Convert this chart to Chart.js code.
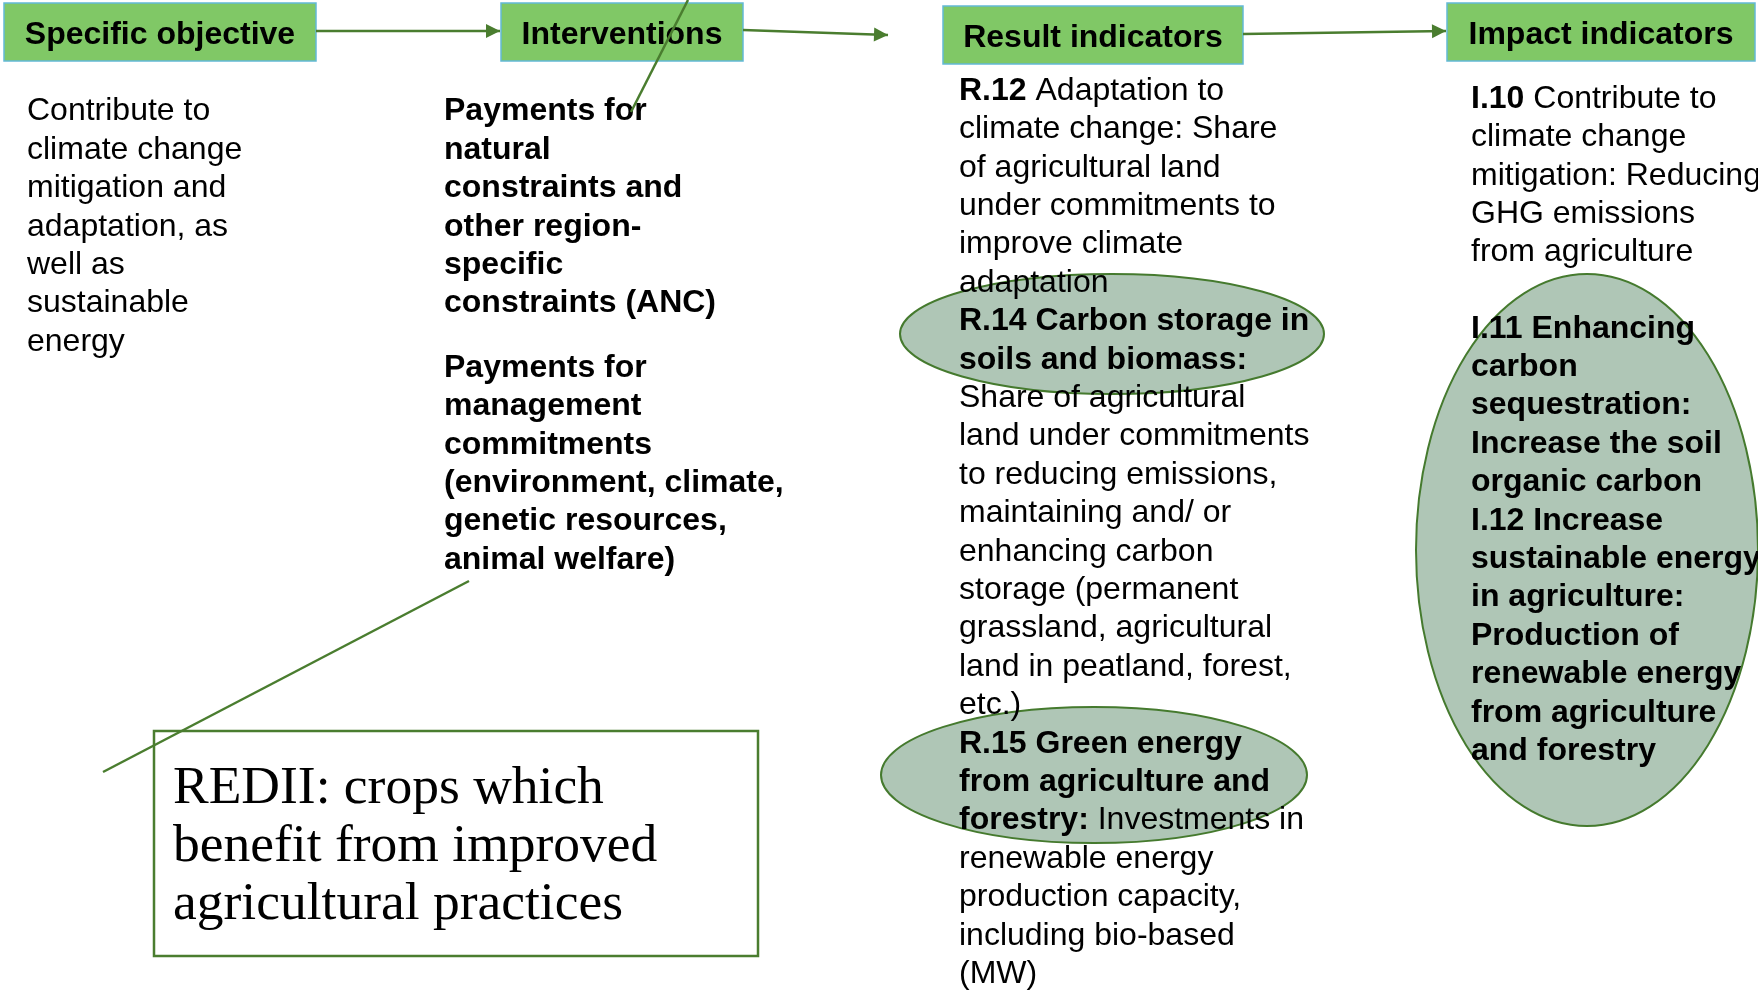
<!DOCTYPE html>
<html>
<head>
<meta charset="utf-8">
<script src="https://cdn.jsdelivr.net/npm/chart.js@4/dist/chart.umd.min.js"></script>
<style>
  html, body { margin: 0; padding: 0; background: #fff; }
  #wrap { width: 1758px; height: 996px; position: relative; }
</style>
</head>
<body>
<div id="wrap"><canvas id="flowChart"></canvas></div>
<script>
// headers of the four stages
const headers = ['Specific objective', 'Interventions', 'Result indicators', 'Impact indicators'];

// column texts (**...** = bold part)
const objectiveLines = ['Contribute to', 'climate change', 'mitigation and', 'adaptation, as', 'well as', 'sustainable', 'energy'];
const ancLines = ['**Payments for**', '**natural**', '**constraints and**', '**other region-**', '**specific**', '**constraints (ANC)**'];
const managementLines = ['**Payments for**', '**management**', '**commitments**', '**(environment, climate,**', '**genetic resources,**', '**animal welfare)**'];
const resultLines = [
    '**R.12** Adaptation to', 'climate change: Share', 'of agricultural land', 'under commitments to',
    'improve climate', 'adaptation', '**R.14 Carbon storage in**', '**soils and biomass:**',
    'Share of agricultural', 'land under commitments', 'to reducing emissions,', 'maintaining and/ or',
    'enhancing carbon', 'storage (permanent', 'grassland, agricultural', 'land in peatland, forest,',
    'etc.)', '**R.15 Green energy**', '**from agriculture and**', '**forestry:** Investments in',
    'renewable energy', 'production capacity,', 'including bio-based', '(MW)'
];
const impactLines = ['**I.10** Contribute to', 'climate change', 'mitigation: Reducing', 'GHG emissions', 'from agriculture'];
const sequestrationLines = [
    '**I.11 Enhancing**', '**carbon**', '**sequestration:**', '**Increase the soil**', '**organic carbon**',
    '**I.12 Increase**', '**sustainable energy**', '**in agriculture:**', '**Production of**',
    '**renewable energy**', '**from agriculture**', '**and forestry**'
];
const rediiLines = ['REDII: crops which', 'benefit from improved', 'agricultural practices'];

// layout (in page pixels, mapped through the chart scales)
const headerBoxes = [
    { x0: 4, x1: 316, y0: 3, y1: 61 },
    { x0: 501, x1: 743, y0: 3, y1: 61 },
    { x0: 943, x1: 1243, y0: 6, y1: 64 },
    { x0: 1447, x1: 1755, y0: 3, y1: 61 },
];
const ellipses = [
    { cx: 1112, cy: 334, rx: 212, ry: 60 },
    { cx: 1094, cy: 775, rx: 213, ry: 68 },
    { cx: 1587, cy: 550, rx: 171, ry: 276 },
];
const textBlocks = [
    { lines: objectiveLines, x: 27, y: 111.5 },
    { lines: ancLines, x: 444, y: 111.5 },
    { lines: managementLines, x: 444, y: 368 },
    { lines: resultLines, x: 959, y: 91 },
    { lines: impactLines, x: 1471, y: 99 },
    { lines: sequestrationLines, x: 1471, y: 328.8 },
];
const rediiBox = { x0: 154, x1: 758, y0: 731, y1: 956 };
const lineStep = 38.4;

const green = '#4a7d2f';
const sans = '"Liberation Sans", Arial, sans-serif';

function connector(points, arrow) {
    return {
        data: points.map(p => ({ x: p[0], y: p[1] })),
        showLine: true,
        borderColor: green,
        borderWidth: 2.5,
        pointRadius: 0,
        arrow: arrow,
    };
}

function drawRich(ctx, text, x, y) {
    const parts = text.split('**');
    let cx = x;
    parts.forEach((part, i) => {
        if (!part) return;
        ctx.font = (i % 2 === 1 ? 'bold ' : '') + '32px ' + sans;
        ctx.fillText(part, cx, y);
        cx += ctx.measureText(part).width;
    });
}

const diagramPlugin = {
    id: 'diagram',
    beforeDatasetsDraw(chart) {
        const { ctx, scales: { x, y } } = chart;
        const px = v => x.getPixelForValue(v);
        const py = v => y.getPixelForValue(v);
        ctx.save();

        // header boxes
        headerBoxes.forEach((b, i) => {
            ctx.fillStyle = '#80c866';
            ctx.fillRect(px(b.x0), py(b.y0), px(b.x1) - px(b.x0), py(b.y1) - py(b.y0));
            ctx.strokeStyle = '#63b9d6';
            ctx.lineWidth = 1.5;
            ctx.strokeRect(px(b.x0), py(b.y0), px(b.x1) - px(b.x0), py(b.y1) - py(b.y0));
            ctx.fillStyle = '#000';
            ctx.font = 'bold 32px ' + sans;
            ctx.textAlign = 'center';
            ctx.textBaseline = 'middle';
            ctx.fillText(headers[i], px((b.x0 + b.x1) / 2), py((b.y0 + b.y1) / 2 + 3));
        });

        // REDII box
        ctx.strokeStyle = green;
        ctx.lineWidth = 2.5;
        ctx.strokeRect(px(rediiBox.x0), py(rediiBox.y0), px(rediiBox.x1) - px(rediiBox.x0), py(rediiBox.y1) - py(rediiBox.y0));
        ctx.fillStyle = '#000';
        ctx.textAlign = 'left';
        ctx.textBaseline = 'alphabetic';
        ctx.font = '53.5px "Liberation Serif", "Times New Roman", serif';
        rediiLines.forEach((t, i) => ctx.fillText(t, px(173), py(803 + i * 58)));

        // ellipses
        ellipses.forEach(e => {
            ctx.beginPath();
            ctx.ellipse(px(e.cx), py(e.cy), px(e.cx + e.rx) - px(e.cx), py(e.cy + e.ry) - py(e.cy), 0, 0, Math.PI * 2);
            ctx.fillStyle = '#afc6b6';
            ctx.fill();
            ctx.strokeStyle = '#457a2e';
            ctx.lineWidth = 2;
            ctx.stroke();
        });

        // column texts
        ctx.fillStyle = '#000';
        ctx.textAlign = 'left';
        ctx.textBaseline = 'middle';
        textBlocks.forEach(b => {
            b.lines.forEach((t, i) => drawRich(ctx, t, px(b.x), py(b.y + i * lineStep)));
        });
        ctx.restore();
    },
    afterDatasetsDraw(chart) {
        const { ctx, scales: { x, y } } = chart;
        ctx.save();
        chart.data.datasets.forEach(ds => {
            if (!ds.arrow) return;
            const n = ds.data.length;
            const a = ds.data[n - 2], b = ds.data[n - 1];
            const x1 = x.getPixelForValue(a.x), y1 = y.getPixelForValue(a.y);
            const x2 = x.getPixelForValue(b.x), y2 = y.getPixelForValue(b.y);
            const ang = Math.atan2(y2 - y1, x2 - x1);
            const len = 14, half = 7;
            ctx.beginPath();
            ctx.moveTo(x2, y2);
            ctx.lineTo(x2 - len * Math.cos(ang) + half * Math.sin(ang), y2 - len * Math.sin(ang) - half * Math.cos(ang));
            ctx.lineTo(x2 - len * Math.cos(ang) - half * Math.sin(ang), y2 - len * Math.sin(ang) + half * Math.cos(ang));
            ctx.closePath();
            ctx.fillStyle = green;
            ctx.fill();
        });
        ctx.restore();
    },
};

const ctx = document.getElementById('flowChart').getContext('2d');
const flowChart = new Chart(ctx, {
    type: 'scatter',
    data: {
        datasets: [
            connector([[316, 31], [500, 31]], true),
            connector([[743, 30], [888, 35]], true),
            connector([[1243, 34], [1446, 31]], true),
            connector([[688, 0], [631, 112]], false),
            connector([[469, 581], [103, 772]], false),
        ],
    },
    options: {
        responsive: true,
        maintainAspectRatio: false,
        animation: false,
        layout: { padding: 0 },
        plugins: { legend: { display: false }, tooltip: { enabled: false } },
        scales: {
            x: { type: 'linear', min: 0, max: 1758, display: false },
            y: { type: 'linear', min: 0, max: 996, reverse: true, display: false },
        },
    },
    plugins: [diagramPlugin],
});
</script>
</body>
</html>
